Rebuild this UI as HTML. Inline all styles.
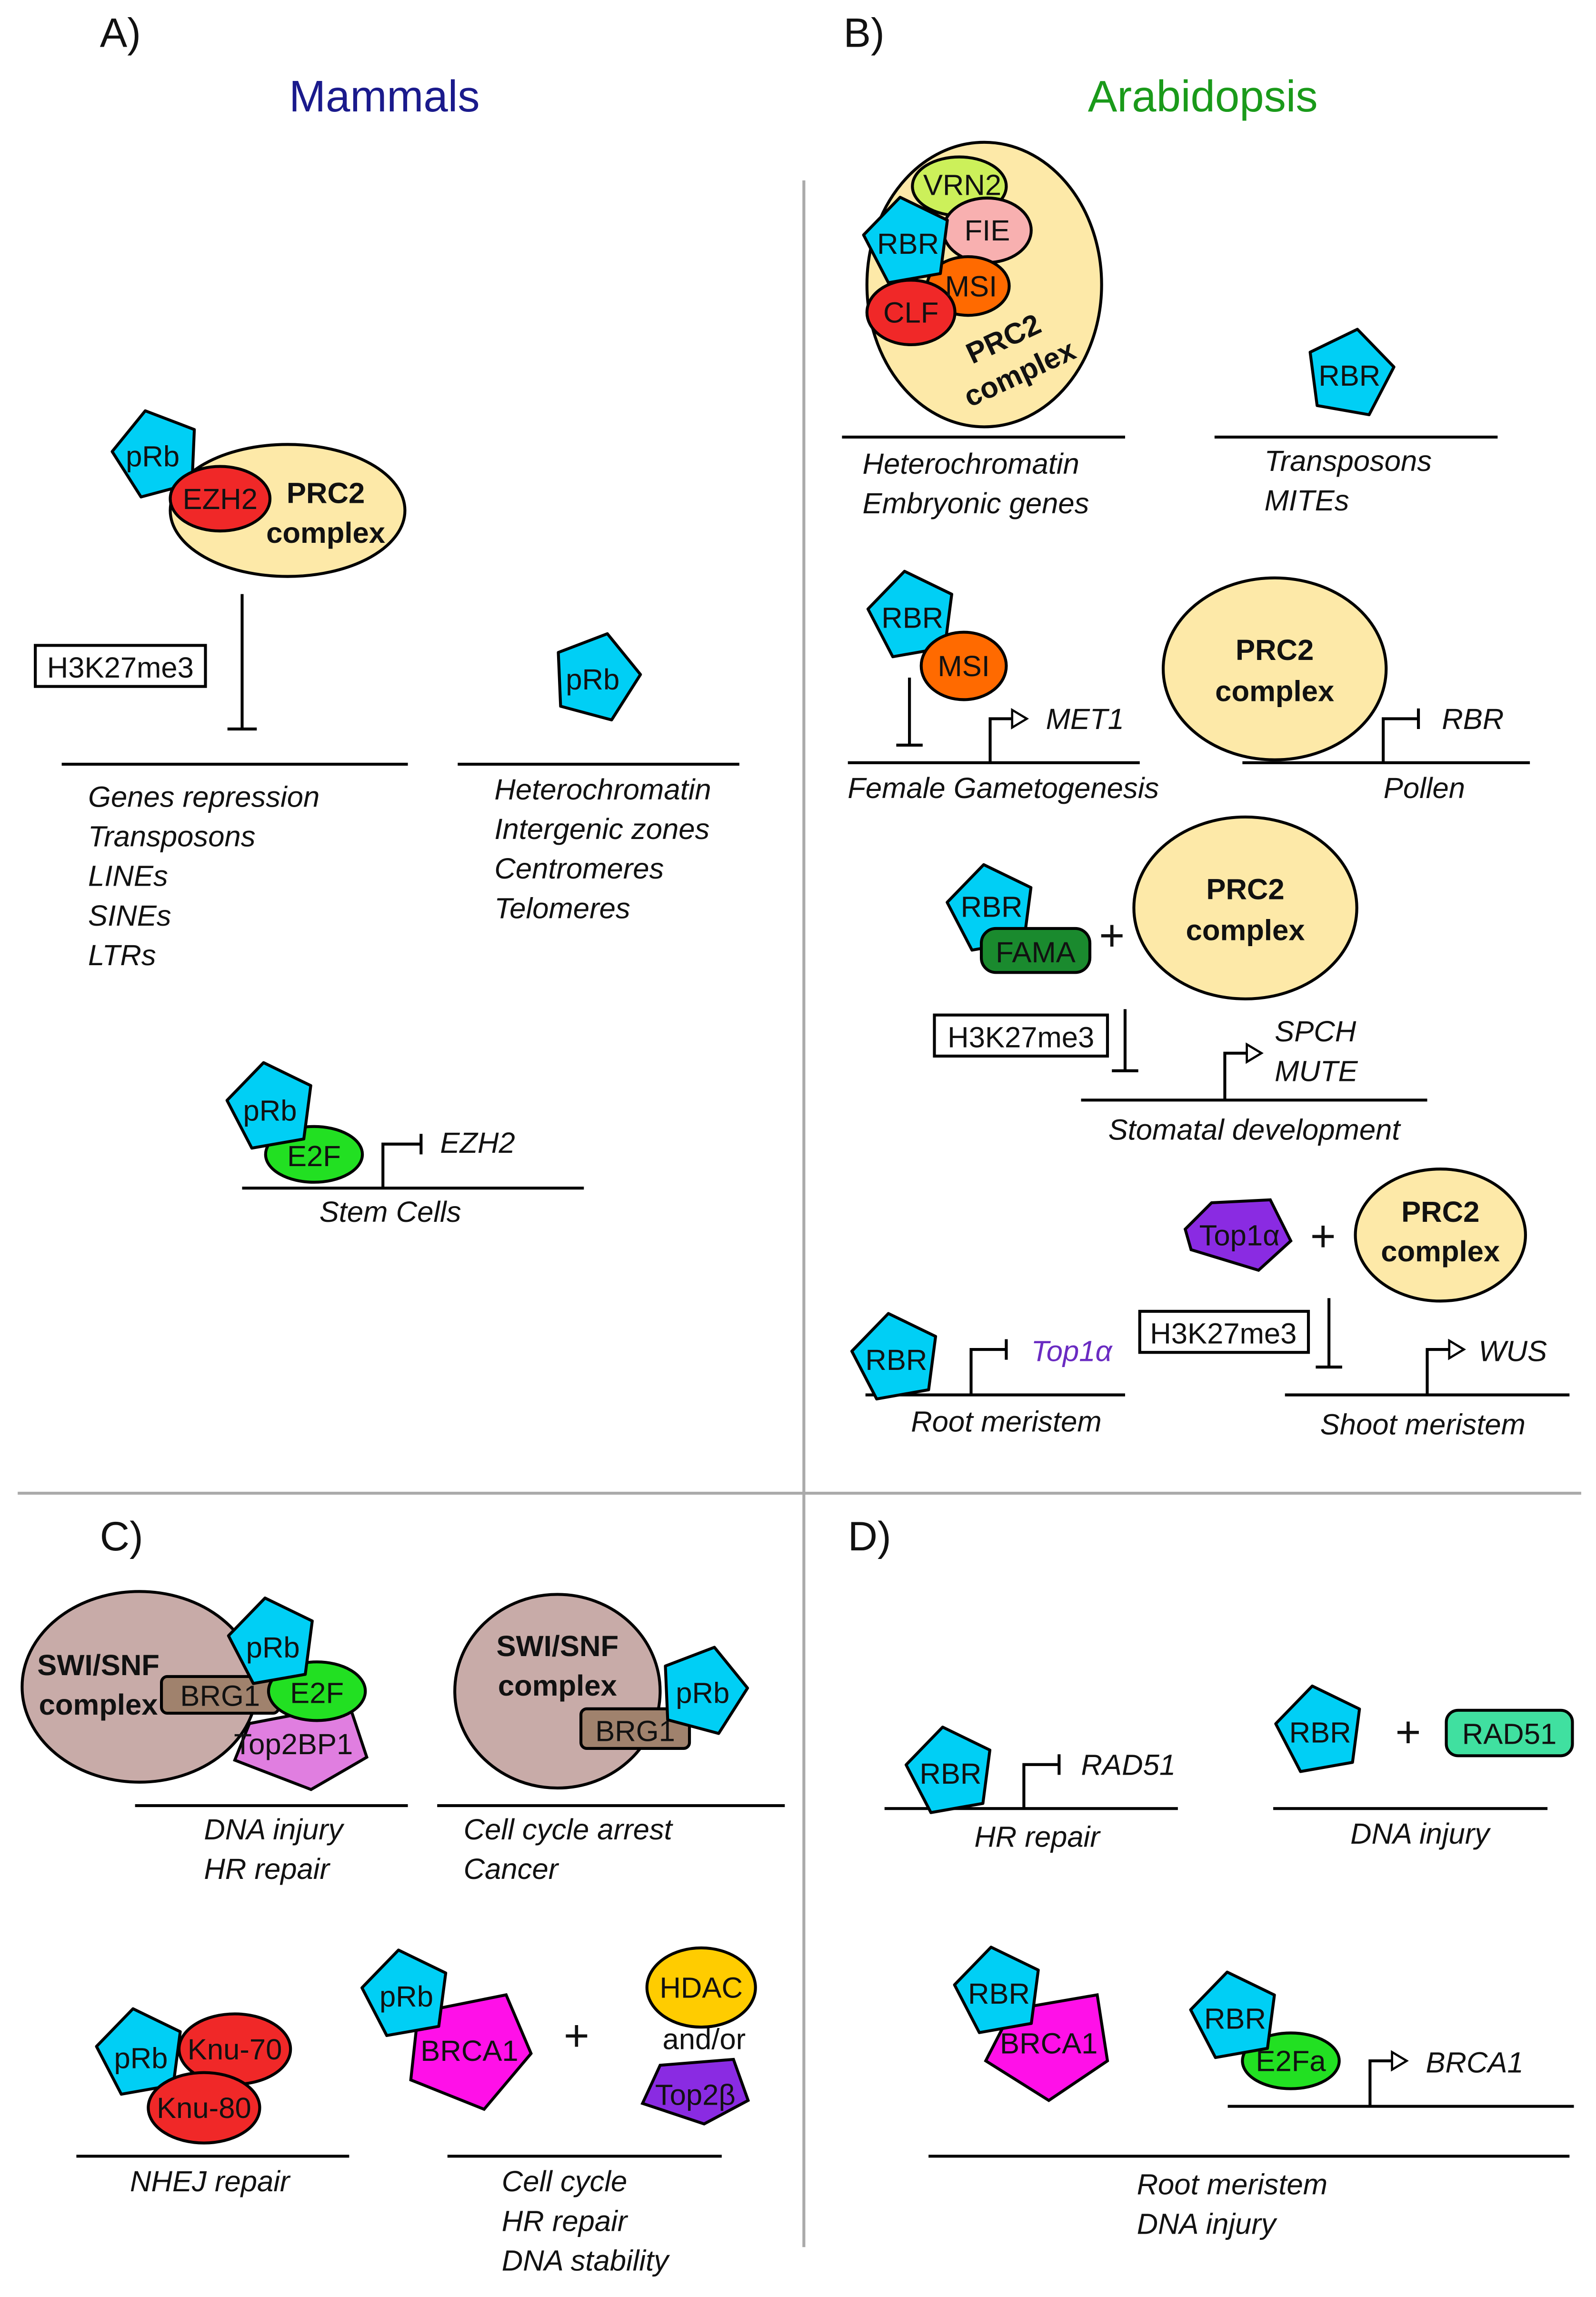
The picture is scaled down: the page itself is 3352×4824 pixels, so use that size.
<!DOCTYPE html>
<html><head><meta charset="utf-8"><style>
html,body{margin:0;padding:0;background:#fff}
svg{display:block}
text{font-family:"Liberation Sans",sans-serif;fill:#111}
.i{font-style:italic;font-size:20px}
.l{font-size:20px}
.b{font-weight:bold;font-size:20px}
</style></head><body>
<svg width="3352" height="4824" viewBox="0 0 1088 1566" xmlns="http://www.w3.org/2000/svg">
<defs>
<polygon id="p" points="0,-31 29,-10 18,25 -18,25 -29,-10" stroke="#000" stroke-width="2" stroke-linejoin="round"/>
</defs>
<rect width="1088" height="1566" fill="#fff"/>
<g stroke="#aaa" stroke-width="2">
<line x1="548" y1="123" x2="548" y2="1532"/>
<line x1="12" y1="1018" x2="1078" y2="1018"/>
</g>
<text x="68" y="32" font-size="28">A)</text>
<text x="575" y="32" font-size="28">B)</text>
<text x="68" y="1057" font-size="28">C)</text>
<text x="578" y="1057" font-size="28">D)</text>
<text x="262" y="76" font-size="30" text-anchor="middle" style="fill:#1a1a8c">Mammals</text>
<text x="820" y="76" font-size="30" text-anchor="middle" style="fill:#1a9a1a">Arabidopsis</text>

<g stroke="#000" stroke-width="2" fill="none">
<!-- A -->
<line x1="165" y1="405" x2="165" y2="497"/><line x1="155" y1="497" x2="175" y2="497"/>
<line x1="42" y1="521" x2="278" y2="521"/>
<line x1="312" y1="521" x2="504" y2="521"/>
<line x1="165" y1="810" x2="398" y2="810"/>
<polyline points="261,810 261,780 287,780"/><line x1="287" y1="773" x2="287" y2="787"/>
<!-- B -->
<line x1="574" y1="298" x2="767" y2="298"/>
<line x1="828" y1="298" x2="1021" y2="298"/>
<line x1="620" y1="462" x2="620" y2="508"/><line x1="611" y1="508" x2="629" y2="508"/>
<line x1="578" y1="520" x2="777" y2="520"/>
<polyline points="675,520 675,490 690,490"/>
<line x1="847" y1="520" x2="1043" y2="520"/>
<polyline points="943,520 943,490 967,490"/><line x1="967" y1="483" x2="967" y2="497"/>
<line x1="767" y1="688" x2="767" y2="730"/><line x1="758" y1="730" x2="776" y2="730"/>
<line x1="737" y1="750" x2="973" y2="750"/>
<polyline points="835,750 835,718 850,718"/>
<line x1="906" y1="885" x2="906" y2="932"/><line x1="897" y1="932" x2="915" y2="932"/>
<line x1="876" y1="951" x2="1070" y2="951"/>
<polyline points="973,951 973,920 988,920"/>
<line x1="590" y1="951" x2="767" y2="951"/>
<polyline points="662,951 662,920 686,920"/><line x1="686" y1="913" x2="686" y2="927"/>
<!-- C -->
<line x1="92" y1="1231" x2="278" y2="1231"/>
<line x1="298" y1="1231" x2="535" y2="1231"/>
<line x1="52" y1="1470" x2="238" y2="1470"/>
<line x1="305" y1="1470" x2="492" y2="1470"/>
<!-- D -->
<line x1="603" y1="1233" x2="803" y2="1233"/>
<polyline points="698,1233 698,1203 722,1203"/><line x1="722" y1="1196" x2="722" y2="1210"/>
<line x1="868" y1="1233" x2="1055" y2="1233"/>
<line x1="837" y1="1436" x2="1073" y2="1436"/>
<polyline points="934,1436 934,1405 949,1405"/>
<line x1="633" y1="1470" x2="1070" y2="1470"/>
</g>
<g fill="#fff" stroke="#000" stroke-width="1.5">
<polygon points="690,484 700,490 690,496"/>
<polygon points="850,712 860,718 850,724"/>
<polygon points="988,914 998,920 988,926"/>
<polygon points="949,1399 959,1405 949,1411"/>
</g>

<!-- Panel A -->
<ellipse cx="196" cy="348" rx="80" ry="45" fill="#fde9a8" stroke="#000" stroke-width="2"/>
<use href="#p" x="0" y="0" transform="translate(107,310) rotate(-15)" fill="#00cff5"/>
<ellipse cx="150" cy="340" rx="34" ry="22" fill="#f02828" stroke="#000" stroke-width="2"/>
<text x="150" y="347" class="l" text-anchor="middle">EZH2</text>
<text x="104" y="318" class="l" text-anchor="middle">pRb</text>
<text x="222" y="343" class="b" text-anchor="middle">PRC2</text>
<text x="222" y="370" class="b" text-anchor="middle">complex</text>
<rect x="24" y="440" width="116" height="28" fill="#fff" stroke="#000" stroke-width="2"/>
<text x="82" y="462" class="l" text-anchor="middle">H3K27me3</text>
<g class="i"><text x="60" y="550" class="i">Genes repression</text><text x="60" y="577" class="i">Transposons</text><text x="60" y="604" class="i">LINEs</text><text x="60" y="631" class="i">SINEs</text><text x="60" y="658" class="i">LTRs</text></g>
<use href="#p" transform="translate(406,462) rotate(15)" fill="#00cff5"/>
<text x="404" y="470" class="l" text-anchor="middle">pRb</text>
<text x="337" y="545" class="i">Heterochromatin</text><text x="337" y="572" class="i">Intergenic zones</text><text x="337" y="599" class="i">Centromeres</text><text x="337" y="626" class="i">Telomeres</text>
<ellipse cx="214" cy="787" rx="33" ry="19" fill="#22e022" stroke="#000" stroke-width="2"/>
<use href="#p" transform="translate(185,755) rotate(-10)" fill="#00cff5"/>
<text x="184" y="764" class="l" text-anchor="middle">pRb</text>
<text x="214" y="795" class="l" text-anchor="middle">E2F</text>
<text x="300" y="786" class="i">EZH2</text>
<text x="266" y="833" class="i" text-anchor="middle">Stem Cells</text>

<!-- Panel B -->
<ellipse cx="671" cy="194" rx="80" ry="97" fill="#fde9a8" stroke="#000" stroke-width="2"/>
<ellipse cx="654" cy="127" rx="32" ry="20" fill="#ccf05a" stroke="#000" stroke-width="2"/>
<ellipse cx="673" cy="157" rx="30" ry="22" fill="#f8b0b0" stroke="#000" stroke-width="2"/>
<ellipse cx="660" cy="195" rx="28" ry="20" fill="#ff6a00" stroke="#000" stroke-width="2"/>
<ellipse cx="621" cy="213" rx="30" ry="22" fill="#f02828" stroke="#000" stroke-width="2"/>
<use href="#p" transform="translate(619,165) rotate(-10)" fill="#00cff5"/>
<text x="656" y="133" class="l" text-anchor="middle">VRN2</text>
<text x="673" y="164" class="l" text-anchor="middle">FIE</text>
<text x="662" y="202" class="l" text-anchor="middle">MSI</text>
<text x="621" y="220" class="l" text-anchor="middle">CLF</text>
<text x="619" y="173" class="l" text-anchor="middle">RBR</text>
<g transform="translate(692,248) rotate(-25)"><text x="0" y="-12" class="b" text-anchor="middle">PRC2</text><text x="0" y="14" class="b" text-anchor="middle">complex</text></g>
<text x="588" y="323" class="i">Heterochromatin</text><text x="588" y="350" class="i">Embryonic genes</text>
<use href="#p" transform="translate(920,255) rotate(10)" fill="#00cff5"/>
<text x="920" y="263" class="l" text-anchor="middle">RBR</text>
<text x="862" y="321" class="i">Transposons</text><text x="862" y="348" class="i">MITEs</text>

<use href="#p" transform="translate(622,420) rotate(-10)" fill="#00cff5"/>
<ellipse cx="657" cy="454" rx="29" ry="23" fill="#ff6a00" stroke="#000" stroke-width="2"/>
<text x="622" y="428" class="l" text-anchor="middle">RBR</text>
<text x="657" y="461" class="l" text-anchor="middle">MSI</text>
<text x="713" y="497" class="i">MET1</text>
<text x="684" y="544" class="i" text-anchor="middle">Female Gametogenesis</text>
<ellipse cx="869" cy="456" rx="76" ry="62" fill="#fde9a8" stroke="#000" stroke-width="2"/>
<text x="869" y="450" class="b" text-anchor="middle">PRC2</text><text x="869" y="478" class="b" text-anchor="middle">complex</text>
<text x="983" y="497" class="i">RBR</text>
<text x="971" y="544" class="i" text-anchor="middle">Pollen</text>

<use href="#p" transform="translate(676,620) rotate(-10)" fill="#00cff5"/>
<rect x="669" y="633" width="74" height="30" rx="10" fill="#1a8a2e" stroke="#000" stroke-width="2"/>
<text x="676" y="625" class="l" text-anchor="middle">RBR</text>
<text x="706" y="656" class="l" text-anchor="middle">FAMA</text>
<text x="758" y="648" font-size="30" text-anchor="middle">+</text>
<ellipse cx="849" cy="619" rx="76" ry="62" fill="#fde9a8" stroke="#000" stroke-width="2"/>
<text x="849" y="613" class="b" text-anchor="middle">PRC2</text><text x="849" y="641" class="b" text-anchor="middle">complex</text>
<rect x="637" y="692" width="118" height="28" fill="#fff" stroke="#000" stroke-width="2"/>
<text x="696" y="714" class="l" text-anchor="middle">H3K27me3</text>
<text x="869" y="710" class="i">SPCH</text><text x="869" y="737" class="i">MUTE</text>
<text x="855" y="777" class="i" text-anchor="middle">Stomatal development</text>

<polygon points="826,820 866,818 880,846 858,866 812,852 808,838" fill="#8a2be2" stroke="#000" stroke-width="2"/>
<text x="845" y="849" class="l" text-anchor="middle">Top1α</text>
<text x="902" y="853" font-size="30" text-anchor="middle">+</text>
<ellipse cx="982" cy="842" rx="58" ry="45" fill="#fde9a8" stroke="#000" stroke-width="2"/>
<text x="982" y="833" class="b" text-anchor="middle">PRC2</text><text x="982" y="860" class="b" text-anchor="middle">complex</text>
<rect x="777" y="894" width="115" height="28" fill="#fff" stroke="#000" stroke-width="2"/>
<text x="834" y="916" class="l" text-anchor="middle">H3K27me3</text>
<text x="1008" y="928" class="i">WUS</text>
<use href="#p" transform="translate(611,926) rotate(-10)" fill="#00cff5"/>
<text x="611" y="934" class="l" text-anchor="middle">RBR</text>
<text x="703" y="928" class="i" style="fill:#6a2bc2">Top1α</text>
<text x="686" y="976" class="i" text-anchor="middle">Root meristem</text>
<text x="970" y="978" class="i" text-anchor="middle">Shoot meristem</text>

<!-- Panel C -->
<ellipse cx="95" cy="1150" rx="80" ry="65" fill="#c8aba8" stroke="#000" stroke-width="2"/>
<polygon points="170,1175 238,1162 250,1198 212,1220 160,1200" fill="#e07ee0" stroke="#000" stroke-width="2"/>
<rect x="110" y="1143" width="80" height="25" rx="4" fill="#a0826d" stroke="#000" stroke-width="2"/>
<ellipse cx="216" cy="1153" rx="33" ry="20" fill="#22e022" stroke="#000" stroke-width="2"/>
<use href="#p" transform="translate(186,1120) rotate(-10)" fill="#00cff5"/>
<text x="67" y="1142" class="b" text-anchor="middle">SWI/SNF</text><text x="67" y="1169" class="b" text-anchor="middle">complex</text>
<text x="150" y="1163" class="l" text-anchor="middle">BRG1</text>
<text x="216" y="1161" class="l" text-anchor="middle">E2F</text>
<text x="186" y="1130" class="l" text-anchor="middle">pRb</text>
<text x="200" y="1196" class="l" text-anchor="middle">Top2BP1</text>
<text x="139" y="1254" class="i">DNA injury</text><text x="139" y="1281" class="i">HR repair</text>

<ellipse cx="380" cy="1153" rx="70" ry="66" fill="#c8aba8" stroke="#000" stroke-width="2"/>
<text x="380" y="1129" class="b" text-anchor="middle">SWI/SNF</text><text x="380" y="1156" class="b" text-anchor="middle">complex</text>
<rect x="396" y="1165" width="74" height="27" rx="4" fill="#a0826d" stroke="#000" stroke-width="2"/>
<text x="433" y="1187" class="l" text-anchor="middle">BRG1</text>
<use href="#p" transform="translate(479,1153) rotate(15)" fill="#00cff5"/>
<text x="479" y="1161" class="l" text-anchor="middle">pRb</text>
<text x="316" y="1254" class="i">Cell cycle arrest</text><text x="316" y="1281" class="i">Cancer</text>

<use href="#p" transform="translate(96,1400) rotate(-10)" fill="#00cff5"/>
<ellipse cx="160" cy="1397" rx="38" ry="24" fill="#f02828" stroke="#000" stroke-width="2"/>
<ellipse cx="139" cy="1437" rx="38" ry="24" fill="#f02828" stroke="#000" stroke-width="2"/>
<text x="96" y="1410" class="l" text-anchor="middle">pRb</text>
<text x="160" y="1404" class="l" text-anchor="middle">Knu-70</text>
<text x="139" y="1444" class="l" text-anchor="middle">Knu-80</text>
<text x="143" y="1494" class="i" text-anchor="middle">NHEJ repair</text>

<polygon points="285,1372 345,1360 362,1400 330,1438 280,1418" fill="#ff10e8" stroke="#000" stroke-width="2"/>
<use href="#p" transform="translate(277,1360) rotate(-10)" fill="#00cff5"/>
<text x="277" y="1368" class="l" text-anchor="middle">pRb</text>
<text x="320" y="1405" class="l" text-anchor="middle">BRCA1</text>
<text x="393" y="1398" font-size="30" text-anchor="middle">+</text>
<ellipse cx="478" cy="1355" rx="37" ry="27" fill="#ffcc00" stroke="#000" stroke-width="2"/>
<text x="478" y="1362" class="l" text-anchor="middle">HDAC</text>
<text x="480" y="1397" class="l" text-anchor="middle">and/or</text>
<polygon points="450,1408 500,1404 510,1432 480,1448 438,1434" fill="#8a2be2" stroke="#000" stroke-width="2"/>
<text x="474" y="1435" class="l" text-anchor="middle">Top2β</text>
<text x="342" y="1494" class="i">Cell cycle</text><text x="342" y="1521" class="i">HR repair</text><text x="342" y="1548" class="i">DNA stability</text>

<!-- Panel D -->
<use href="#p" transform="translate(648,1208) rotate(-10)" fill="#00cff5"/>
<text x="648" y="1216" class="l" text-anchor="middle">RBR</text>
<text x="737" y="1210" class="i">RAD51</text>
<text x="707" y="1259" class="i" text-anchor="middle">HR repair</text>
<use href="#p" transform="translate(900,1180) rotate(-10)" fill="#00cff5"/>
<text x="900" y="1188" class="l" text-anchor="middle">RBR</text>
<text x="960" y="1191" font-size="30" text-anchor="middle">+</text>
<rect x="986" y="1166" width="86" height="31" rx="8" fill="#40e0a0" stroke="#000" stroke-width="2"/>
<text x="1029" y="1189" class="l" text-anchor="middle">RAD51</text>
<text x="968" y="1257" class="i" text-anchor="middle">DNA injury</text>

<polygon points="690,1370 748,1360 755,1405 715,1432 672,1405" fill="#ff10e8" stroke="#000" stroke-width="2"/>
<use href="#p" transform="translate(681,1358) rotate(-10)" fill="#00cff5"/>
<text x="681" y="1366" class="l" text-anchor="middle">RBR</text>
<text x="715" y="1400" class="l" text-anchor="middle">BRCA1</text>
<ellipse cx="880" cy="1405" rx="33" ry="19" fill="#22e022" stroke="#000" stroke-width="2"/>
<use href="#p" transform="translate(842,1375) rotate(-10)" fill="#00cff5"/>
<text x="842" y="1383" class="l" text-anchor="middle">RBR</text>
<text x="880" y="1412" class="l" text-anchor="middle">E2Fa</text>
<text x="972" y="1413" class="i">BRCA1</text>
<text x="775" y="1496" class="i">Root meristem</text><text x="775" y="1523" class="i">DNA injury</text>
</svg>
</body></html>
